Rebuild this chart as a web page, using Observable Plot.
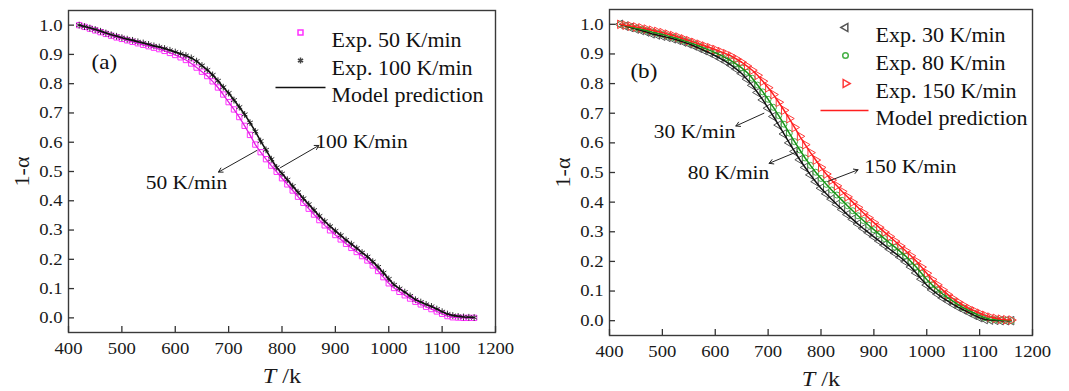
<!DOCTYPE html>
<html><head><meta charset="utf-8">
<script src="https://cdn.jsdelivr.net/npm/d3@7"></script>
<script src="https://cdn.jsdelivr.net/npm/@observablehq/plot@0.6"></script>
<style>
body{margin:0;background:#fff;}
#wrap{position:relative;width:1069px;height:391px;display:flex;flex-direction:row;}
#wrap svg{display:block;}
#wrap svg, #wrap svg text, #wrap svg tspan{font-family:"Liberation Serif","Times New Roman",serif !important;}
</style></head><body><div id="wrap"></div>
<script>
// ---------- data ----------
const temps = [420,430,440,450,460,470,480,490,500,510,520,530,540,550,560,570,580,590,600,610,620,630,640,650,660,670,680,690,700,710,720,730,740,750,760,770,780,790,800,810,820,830,840,850,860,870,880,890,900,910,920,930,940,950,960,970,980,990,1000,1010,1020,1030,1040,1050,1060,1070,1080,1090,1100,1110,1120,1130,1140,1150,1160];
// panel (a)
const exp50 = [1.000,0.994,0.988,0.982,0.976,0.970,0.964,0.958,0.953,0.948,0.943,0.938,0.933,0.928,0.923,0.918,0.912,0.905,0.898,0.890,0.881,0.869,0.855,0.841,0.826,0.808,0.787,0.763,0.737,0.712,0.686,0.656,0.625,0.592,0.566,0.542,0.520,0.499,0.477,0.456,0.435,0.414,0.393,0.373,0.353,0.334,0.316,0.299,0.283,0.268,0.253,0.239,0.225,0.211,0.196,0.179,0.160,0.139,0.118,0.102,0.089,0.077,0.066,0.055,0.046,0.038,0.030,0.022,0.014,0.006,0.002,0.001,0.000,0.000,0.000];
const exp100 = [1.000,0.995,0.990,0.985,0.979,0.973,0.967,0.962,0.957,0.952,0.948,0.943,0.939,0.934,0.929,0.925,0.920,0.914,0.908,0.902,0.896,0.888,0.877,0.862,0.847,0.830,0.810,0.788,0.768,0.744,0.720,0.695,0.667,0.637,0.604,0.574,0.542,0.514,0.493,0.472,0.450,0.429,0.408,0.388,0.368,0.348,0.330,0.313,0.297,0.282,0.266,0.252,0.238,0.223,0.209,0.192,0.174,0.154,0.133,0.113,0.100,0.088,0.075,0.062,0.054,0.046,0.039,0.030,0.021,0.013,0.008,0.005,0.003,0.002,0.001];
// panel (b)
const exp30 = [1.000,0.994,0.989,0.984,0.979,0.974,0.968,0.964,0.960,0.956,0.951,0.946,0.940,0.934,0.927,0.919,0.911,0.903,0.894,0.884,0.874,0.862,0.849,0.834,0.815,0.794,0.770,0.745,0.717,0.689,0.660,0.630,0.600,0.571,0.543,0.517,0.492,0.469,0.447,0.428,0.410,0.392,0.375,0.358,0.342,0.326,0.311,0.297,0.283,0.269,0.255,0.241,0.228,0.214,0.199,0.181,0.161,0.140,0.120,0.104,0.090,0.077,0.066,0.055,0.045,0.036,0.027,0.018,0.010,0.004,0.002,0.001,0.000,0.000,0.000];
const exp80 = [1.000,0.996,0.991,0.987,0.983,0.979,0.974,0.970,0.966,0.961,0.956,0.951,0.945,0.939,0.933,0.926,0.919,0.912,0.904,0.896,0.887,0.877,0.866,0.853,0.838,0.818,0.795,0.772,0.747,0.720,0.692,0.663,0.633,0.604,0.576,0.549,0.524,0.501,0.480,0.460,0.441,0.424,0.406,0.388,0.371,0.354,0.338,0.322,0.307,0.292,0.277,0.262,0.248,0.233,0.218,0.200,0.181,0.160,0.139,0.121,0.105,0.090,0.077,0.065,0.053,0.043,0.034,0.025,0.017,0.010,0.005,0.003,0.002,0.001,0.000];
const exp150 = [1.000,0.997,0.994,0.991,0.988,0.984,0.980,0.976,0.972,0.967,0.962,0.957,0.951,0.945,0.939,0.933,0.927,0.921,0.915,0.908,0.901,0.893,0.883,0.872,0.859,0.845,0.828,0.808,0.786,0.763,0.737,0.710,0.682,0.652,0.622,0.594,0.567,0.542,0.517,0.495,0.474,0.455,0.436,0.418,0.400,0.382,0.364,0.347,0.331,0.315,0.299,0.284,0.268,0.252,0.236,0.219,0.201,0.181,0.160,0.139,0.121,0.104,0.088,0.074,0.062,0.051,0.041,0.033,0.025,0.018,0.012,0.008,0.005,0.003,0.002];

const xTicks = [400,500,600,700,800,900,1000,1100,1200];
const yTicks = [0,0.1,0.2,0.3,0.4,0.5,0.6,0.7,0.8,0.9,1.0];

const legendA = ["Exp. 50 K/min","Exp. 100 K/min","Model prediction"];
const legendB = ["Exp. 30 K/min","Exp. 80 K/min","Exp. 150 K/min","Model prediction"];

// annotations: label, text position, arrow start (on curve), arrow end
const annA = [
  {label:"50 K/min", tx:621, ty:0.463, x1:753, y1:0.572, x2:681, y2:0.498},
  {label:"100 K/min", tx:949, ty:0.600, x1:797, y1:0.513, x2:869, y2:0.589}
];
const annB = [
  {label:"30 K/min", tx:561, ty:0.638, x1:692, y1:0.700, x2:639, y2:0.657},
  {label:"80 K/min", tx:625, ty:0.498, x1:756, y1:0.571, x2:702, y2:0.531},
  {label:"150 K/min", tx:969, ty:0.520, x1:813, y1:0.470, x2:870, y2:0.509}
];
const tagA = [{label:"(a)", x:467, y:0.874}];
const tagB = [{label:"(b)", x:465, y:0.840}];

// ---------- helpers ----------
const rows = (arr) => temps.map((t, i) => ({T: t, v: arr[i]}));
const FONT = "'Liberation Serif','Times New Roman',serif";
const lineSymbol = (half) => ({draw(ctx){ ctx.moveTo(-half, 0); ctx.lineTo(half, 0); }});

function axes(labelOffsetX, labelOffsetY){
  return [
    Plot.frame({stroke:"#3a3a3a", strokeWidth:1.4}),
    Plot.axisX({ticks:xTicks, tickSize:-6, tickPadding:15, tickFormat:d=>String(d), fontSize:17,
      label:"T /k", labelAnchor:"center", labelOffset:labelOffsetX, labelArrow:"none", stroke:"#333", strokeWidth:1.3}),
    Plot.axisY({ticks:yTicks, tickSize:-6, tickPadding:12, tickFormat:d3.format(".1f"), fontSize:17,
      label:"1-α", labelAnchor:"center", labelOffset:labelOffsetY, labelArrow:"none", stroke:"#333", strokeWidth:1.3})
  ];
}

function legendTexts(labels, dx, dys){
  return labels.map((lab, i) => Plot.text([lab], {frameAnchor:"top-left", dx, dy:dys[i], text:d=>d, textAnchor:"start", fontSize:20, fill:"#111"}));
}

function postProcess(svg){
  svg.querySelectorAll("text").forEach(t => {
    const tr = t.getAttribute("transform") || "";
    if (tr.includes("rotate")) return;
    const x = parseFloat(t.getAttribute("x") || 0);
    t.setAttribute("transform", `${tr} translate(${x},0) scale(1.1,1) translate(${-x},0)`);
  });
  svg.querySelectorAll('g[aria-label="x-axis label"] text, g[aria-label="y-axis label"] text').forEach(t => {
    t.setAttribute("font-size", 22);
    t.style.fontSize = "22px";
  });
  svg.querySelectorAll('g[aria-label="x-axis label"] text').forEach(t => {
    const ns = "http://www.w3.org/2000/svg";
    t.textContent = "";
    const a = document.createElementNS(ns, "tspan");
    a.setAttribute("font-style", "italic");
    a.textContent = "T";
    const b = document.createElementNS(ns, "tspan");
    b.textContent = " /k";
    t.appendChild(a); t.appendChild(b);
  });
  return svg;
}

// ---------- panel (a) ----------
const d50 = rows(exp50), d100 = rows(exp100);
const plotA = Plot.plot({
  width:530, height:391,
  marginLeft:68, marginRight:35, marginTop:10, marginBottom:59,
  style:{fontFamily:FONT, fontSize:"17px", color:"#1a1a1a", background:"#fff", overflow:"visible"},
  x:{domain:[400,1200]},
  y:{domain:[-0.05,1.05]},
  marks:[
    ...axes(50, 55),
    Plot.dot(d50, {x:"T", y:"v", symbol:"square", r:3, stroke:"#ff30ff", strokeWidth:1}),
    Plot.dot(d100, {x:"T", y:"v", symbol:"asterisk", r:3.2, stroke:"#333", strokeWidth:1}),
    Plot.line(d50, {x:"T", y:"v", stroke:"#e020e0", strokeWidth:1.3}),
    Plot.line(d100, {x:"T", y:"v", stroke:"#111", strokeWidth:1.6}),
    Plot.arrow(annA, {x1:"x1", y1:"y1", x2:"x2", y2:"y2", stroke:"#222", strokeWidth:1, headLength:7}),
    Plot.text(annA, {x:"tx", y:"ty", text:"label", fontSize:19.5, fill:"#111"}),
    Plot.text(tagA, {x:"x", y:"y", text:"label", fontSize:21, fill:"#111"}),
    // legend
    Plot.dot([legendA[0]], {frameAnchor:"top-left", dx:232, dy:22, symbol:"square", r:2.8, stroke:"#ff30ff"}),
    Plot.dot([legendA[1]], {frameAnchor:"top-left", dx:232, dy:50, symbol:"asterisk", r:2.8, stroke:"#444"}),
    Plot.dot([legendA[2]], {frameAnchor:"top-left", dx:232, dy:77, symbol:lineSymbol(25), r:3, stroke:"#111", strokeWidth:1.5}),
    ...legendTexts(legendA, 263, [22,50,77])
  ]
});

// ---------- panel (b) ----------
const d30 = rows(exp30), d80 = rows(exp80), d150 = rows(exp150);
const plotB = Plot.plot({
  width:539, height:391,
  marginLeft:79, marginRight:37, marginTop:9, marginBottom:56,
  style:{fontFamily:FONT, fontSize:"17px", color:"#1a1a1a", background:"#fff", overflow:"visible"},
  x:{domain:[400,1200]},
  y:{domain:[-0.05,1.05]},
  marks:[
    ...axes(50, 55),
    Plot.dot(d30, {x:"T", y:"v", symbol:"triangle", rotate:-90, r:3.2, stroke:"#555", strokeWidth:1}),
    Plot.dot(d80, {x:"T", y:"v", symbol:"circle", r:3, stroke:"#45b045", strokeWidth:1}),
    Plot.dot(d150, {x:"T", y:"v", symbol:"triangle", rotate:90, r:3.2, stroke:"#ff3a3a", strokeWidth:1}),
    Plot.line(d30, {x:"T", y:"v", stroke:"#111", strokeWidth:1.5}),
    Plot.line(d80, {x:"T", y:"v", stroke:"#179417", strokeWidth:1.5}),
    Plot.line(d150, {x:"T", y:"v", stroke:"#ff1f1f", strokeWidth:1.5}),
    Plot.arrow(annB, {x1:"x1", y1:"y1", x2:"x2", y2:"y2", stroke:"#222", strokeWidth:1, headLength:7}),
    Plot.text(annB, {x:"tx", y:"ty", text:"label", fontSize:19.5, fill:"#111"}),
    Plot.text(tagB, {x:"x", y:"y", text:"label", fontSize:21, fill:"#111"}),
    // legend
    Plot.dot([legendB[0]], {frameAnchor:"top-left", dx:236, dy:18, symbol:"triangle", rotate:-90, r:3, stroke:"#555"}),
    Plot.dot([legendB[1]], {frameAnchor:"top-left", dx:236, dy:46, symbol:"circle", r:2.8, stroke:"#45b045"}),
    Plot.dot([legendB[2]], {frameAnchor:"top-left", dx:236, dy:74, symbol:"triangle", rotate:90, r:3, stroke:"#ff3a3a"}),
    Plot.dot([legendB[3]], {frameAnchor:"top-left", dx:235, dy:101, symbol:lineSymbol(24), r:3, stroke:"#ff1f1f", strokeWidth:1.5}),
    ...legendTexts(legendB, 266, [18,46,74,101])
  ]
});

const wrap = document.getElementById("wrap");
wrap.appendChild(postProcess(plotA));
wrap.appendChild(postProcess(plotB));
</script>
</body></html>
